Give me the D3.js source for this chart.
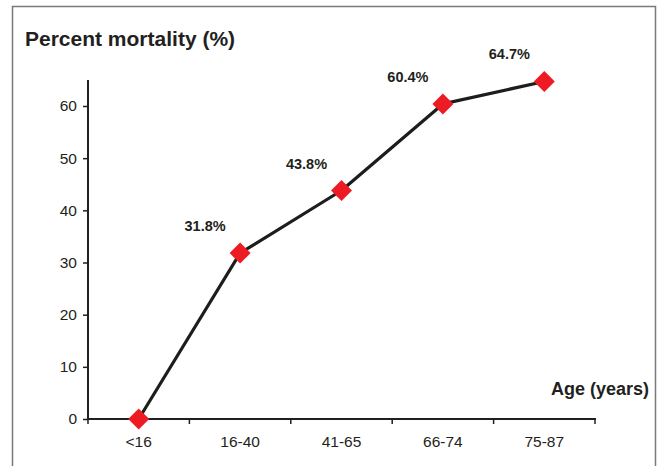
<!DOCTYPE html>
<html><head><meta charset="utf-8">
<script src="https://cdn.jsdelivr.net/npm/d3@7/dist/d3.min.js"></script>
<style>
html,body{margin:0;padding:0;background:#fff;}
svg{display:block;font-family:Arial,"Liberation Sans",Helvetica,sans-serif;}
</style></head>
<body>
<svg id="chart" width="661" height="466"></svg>
<script>
const categories = ["<16", "16-40", "41-65", "66-74", "75-87"];
const mortality = [0, 31.8, 43.8, 60.4, 64.7];
const yTicks = [0, 10, 20, 30, 40, 50, 60];
const labelText = ["", "31.8%", "43.8%", "60.4%", "64.7%"];

const svg = d3.select("#chart");
// frame
svg.append("path").attr("d","M12.5,470 V6.5 H655.5 V470")
  .attr("fill","none").attr("stroke","#7a7a7a").attr("stroke-width",1.5);

const x = d3.scaleBand().domain(categories).range([88, 595]);
const y = d3.scaleLinear().domain([0, 60]).range([419, 106]);

const ink = "#231f20";
// y axis
const yAxis = svg.append("g").attr("transform","translate(88,0)")
  .call(d3.axisLeft(y).tickValues(yTicks).tickSize(5).tickPadding(6).tickSizeOuter(0));
yAxis.select(".domain").remove();
yAxis.append("line").attr("x1",0).attr("x2",0).attr("y1",y(0)+1).attr("y2",80)
  .attr("stroke",ink).attr("stroke-width",2);
yAxis.selectAll(".tick line").attr("stroke",ink).attr("stroke-width",1.5);
yAxis.selectAll(".tick text").attr("fill",ink).attr("font-size",15.5)
  .attr("font-family","Arial,'Liberation Sans',sans-serif");

// x axis
const xAxis = svg.append("g").attr("transform",`translate(0,${y(0)})`)
  .call(d3.axisBottom(x).tickSize(0).tickPadding(17));
xAxis.select(".domain").remove();
xAxis.append("line").attr("x1",87).attr("x2",596).attr("y1",0).attr("y2",0)
  .attr("stroke",ink).attr("stroke-width",2);
const edges = categories.map(c => x(c)).concat([x(categories[categories.length-1]) + x.bandwidth()]);
xAxis.selectAll(".edge").data(edges).join("line").attr("class","edge")
  .attr("x1",d=>d).attr("x2",d=>d).attr("y1",0).attr("y2",5)
  .attr("stroke",ink).attr("stroke-width",1.5);
xAxis.selectAll(".tick text").attr("fill",ink).attr("font-size",15.5)
  .attr("font-family","Arial,'Liberation Sans',sans-serif");

const cx = d => x(d) + x.bandwidth()/2;

// line
const line = d3.line().x((d,i)=>cx(categories[i])).y(d=>y(d));
svg.append("path").datum(mortality).attr("d",line)
  .attr("fill","none").attr("stroke","#1d1d1b").attr("stroke-width",3.2).attr("stroke-linejoin","round");

// markers
const diamond = d3.symbol().type(d3.symbolSquare).size(220);
svg.selectAll(".pt").data(mortality).join("path").attr("class","pt")
  .attr("d",diamond)
  .attr("transform",(d,i)=>`translate(${cx(categories[i])},${y(d)}) rotate(45)`)
  .attr("fill","#ed1c24");

// data labels
svg.selectAll(".lbl").data(mortality).join("text").attr("class","lbl")
  .attr("x",(d,i)=>cx(categories[i]) - x.bandwidth()*0.345)
  .attr("y",d=>y(d) - 22)
  .attr("text-anchor","middle")
  .attr("font-size",14.5).attr("font-weight","bold").attr("fill",ink)
  .text((d,i)=>labelText[i]);

// titles
svg.append("text").attr("x",25).attr("y",46)
  .attr("font-size",21).attr("font-weight","bold").attr("fill",ink)
  .text("Percent mortality (%)");
svg.append("text").attr("x",649).attr("y",395).attr("text-anchor","end")
  .attr("font-size",18).attr("font-weight","bold").attr("fill",ink)
  .text("Age (years)");
</script>
</body></html>
